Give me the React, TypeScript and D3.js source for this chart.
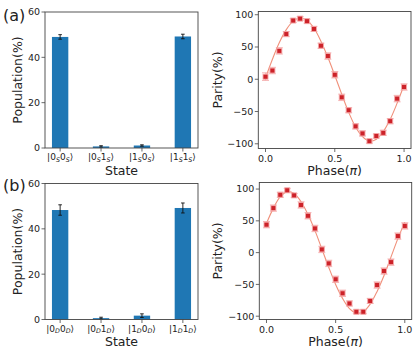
import * as d3 from 'd3';

// bar panels: population per two-qubit state
const stateBits = ['00', '01', '10', '11'];
const popA = [49.0, 0.7, 1.1, 49.2];
const popErrA = [1.0, 0.3, 0.3, 1.0];
const popB = [48.3, 0.6, 1.7, 49.2];
const popErrB = [2.3, 0.4, 0.8, 2.2];

// parity scans
const phase = [0, 0.05, 0.1, 0.15, 0.2, 0.25, 0.3, 0.35, 0.4, 0.45, 0.5, 0.55, 0.6, 0.65, 0.7, 0.75, 0.8, 0.85, 0.9, 0.95, 1.0];
const parityA = [4, 13.5, 44, 70, 91, 94, 90, 78, 52, 36, 7, -28, -48, -73, -84, -96, -88, -83, -65, -30, -12];
const parityErrA = [6, 5, 5, 4, 3, 3, 3, 4, 4, 5, 5, 5, 4, 4, 4, 3, 3, 4, 4, 5, 5];
const fitA = [2, 31, 57, 77, 90, 95, 91, 79, 59, 34, 6, -23, -51, -74, -89, -96, -93, -81, -62, -37, -9];
const parityB = [44, 70, 91, 98, 90, 75, 58, 38, 5, -17, -42, -64, -80, -93, -93, -76, -51, -29, -15, 26, 42];
const parityErrB = [5, 5, 4, 3, 3, 5, 5, 5, 5, 5, 5, 5, 4, 3, 3, 4, 5, 5, 5, 5, 5];
const fitB = [46, 70, 88, 96, 93, 80, 60, 35, 6, -23, -50, -72, -88, -95, -93, -81, -61, -36, -7, 22, 48];

const barTicks = [0, 20, 40, 60];
const parityTicks = [-100, -50, 0, 50, 100];
const phaseTicks = [0, 0.5, 1.0];

const FONT = "'DejaVu Sans', sans-serif";
const FRAME = '#444';
const TEXT = '#222';
const fmtMinus = (v: number) => (v < 0 ? '\u2212' + Math.abs(v) : String(v));

function Ket({ x, y, bits, sub }: { x: number; y: number; bits: string; sub: string }) {
  return (
    <text x={x} y={y} textAnchor="middle" fontSize={9} fill={TEXT} fontFamily={FONT}>
      |{bits[0]}
      <tspan fontSize={6.3} fontStyle="italic" dy={1.5}>{sub}</tspan>
      <tspan dy={-1.5}>{bits[1]}</tspan>
      <tspan fontSize={6.3} fontStyle="italic" dy={1.5}>{sub}</tspan>
      <tspan dy={-1.5}>{'\u27E9'}</tspan>
    </text>
  );
}

function BarPanel({ top, values, errors, sub }: { top: number; values: number[]; errors: number[]; sub: string }) {
  const left = 45;
  const right = 198;
  const bottom = top + 136;
  const x = d3.scaleLinear().domain([-0.37, 3.37]).range([left, right]);
  const y = d3.scaleLinear().domain([0, 60]).range([bottom, top]);
  const bw = x(0.4) - x(0);
  return (
    <g>
      {values.map((v, i) => (
        <rect key={i} x={x(i - 0.2)} y={y(v)} width={bw} height={y(0) - y(v)} fill="#1f77b4" />
      ))}
      {values.map((v, i) => (
        <g key={'e' + i} stroke="#111" strokeWidth={0.9}>
          <line x1={x(i)} x2={x(i)} y1={y(v - errors[i])} y2={y(v + errors[i])} />
          <line x1={x(i) - 1.8} x2={x(i) + 1.8} y1={y(v - errors[i])} y2={y(v - errors[i])} />
          <line x1={x(i) - 1.8} x2={x(i) + 1.8} y1={y(v + errors[i])} y2={y(v + errors[i])} />
        </g>
      ))}
      <rect x={left} y={top} width={right - left} height={bottom - top} fill="none" stroke={FRAME} strokeWidth={0.9} />
      {barTicks.map((t) => (
        <g key={t}>
          <line x1={left - 3.5} x2={left} y1={y(t)} y2={y(t)} stroke={FRAME} strokeWidth={0.8} />
          <text x={left - 5} y={y(t) + 3.4} textAnchor="end" fontSize={9.5} fill={TEXT} fontFamily={FONT}>{t}</text>
        </g>
      ))}
      {stateBits.map((b, i) => (
        <g key={b}>
          <line x1={x(i)} x2={x(i)} y1={bottom} y2={bottom + 3.5} stroke={FRAME} strokeWidth={0.8} />
          <Ket x={x(i)} y={bottom + 12} bits={b} sub={sub} />
        </g>
      ))}
      <text x={(left + right) / 2} y={bottom + 26.5} textAnchor="middle" fontSize={12.5} fill={TEXT} fontFamily={FONT}>State</text>
      <text transform={`translate(22,${(top + bottom) / 2}) rotate(-90)`} textAnchor="middle" fontSize={12.5} fill={TEXT} fontFamily={FONT}>Population(%)</text>
    </g>
  );
}

function ParityPanel({ top, left, right, yDomain, values, errors, fit }: {
  top: number; left: number; right: number; yDomain: [number, number]; values: number[]; errors: number[]; fit: number[];
}) {
  const bottom = top + 137;
  const x = d3.scaleLinear().domain([-0.052, 1.05]).range([left, right]);
  const y = d3.scaleLinear().domain(yDomain).range([bottom, top]);
  const line = d3.line<number>().x((_, i) => x(phase[i])).y((d) => y(d)).curve(d3.curveCatmullRom);
  return (
    <g>
      <path d={line(fit) ?? ''} fill="none" stroke="#f0907a" strokeWidth={1.1} />
      {values.map((v, i) => (
        <g key={'e' + i} stroke="#f4a3a3" strokeWidth={0.9} opacity={0.85}>
          <line x1={x(phase[i])} x2={x(phase[i])} y1={y(v - errors[i])} y2={y(v + errors[i])} />
          <line x1={x(phase[i]) - 3.5} x2={x(phase[i]) + 3.5} y1={y(v - errors[i])} y2={y(v - errors[i])} />
          <line x1={x(phase[i]) - 3.5} x2={x(phase[i]) + 3.5} y1={y(v + errors[i])} y2={y(v + errors[i])} />
        </g>
      ))}
      {values.map((v, i) => (
        <rect key={i} x={x(phase[i]) - 2.5} y={y(v) - 2.5} width={5} height={5} fill="#cc2229" stroke="#f5a8a8" strokeWidth={0.9} />
      ))}
      <rect x={left} y={top} width={right - left} height={bottom - top} fill="none" stroke={FRAME} strokeWidth={0.9} />
      {parityTicks.map((t) => (
        <g key={t}>
          <line x1={left - 3.5} x2={left} y1={y(t)} y2={y(t)} stroke={FRAME} strokeWidth={0.8} />
          <text x={left - 5} y={y(t) + 3.4} textAnchor="end" fontSize={9.5} fill={TEXT} fontFamily={FONT}>{fmtMinus(t)}</text>
        </g>
      ))}
      {phaseTicks.map((t) => (
        <g key={t}>
          <line x1={x(t)} x2={x(t)} y1={bottom} y2={bottom + 3.5} stroke={FRAME} strokeWidth={0.8} />
          <text x={x(t)} y={bottom + 13} textAnchor="middle" fontSize={9.5} fill={TEXT} fontFamily={FONT}>{t.toFixed(1)}</text>
        </g>
      ))}
      <text x={(left + right) / 2} y={bottom + 26.5} textAnchor="middle" fontSize={12.5} fill={TEXT} fontFamily={FONT}>
        Phase(<tspan fontStyle="italic">{'\u03C0'}</tspan>)
      </text>
      <text transform={`translate(222,${(top + bottom) / 2}) rotate(-90)`} textAnchor="middle" fontSize={12.5} fill={TEXT} fontFamily={FONT}>Parity(%)</text>
    </g>
  );
}

export default function App() {
  return (
    <svg width={417} height={350} style={{ position: 'absolute', left: 0, top: 0, background: '#fff' }}>
      <text x={3} y={21} fontSize={16} fill={TEXT} fontFamily={FONT}>(a)</text>
      <text x={3} y={191} fontSize={16} fill={TEXT} fontFamily={FONT}>(b)</text>
      <BarPanel top={12} values={popA} errors={popErrA} sub="S" />
      <BarPanel top={183.5} values={popB} errors={popErrB} sub="D" />
      <ParityPanel top={11.5} left={258.3} right={411} yDomain={[-107.3, 105]} values={parityA} errors={parityErrA} fit={fitA} />
      <ParityPanel top={182.5} left={259.3} right={411.7} yDomain={[-105.2, 110.3]} values={parityB} errors={parityErrB} fit={fitB} />
    </svg>
  );
}
